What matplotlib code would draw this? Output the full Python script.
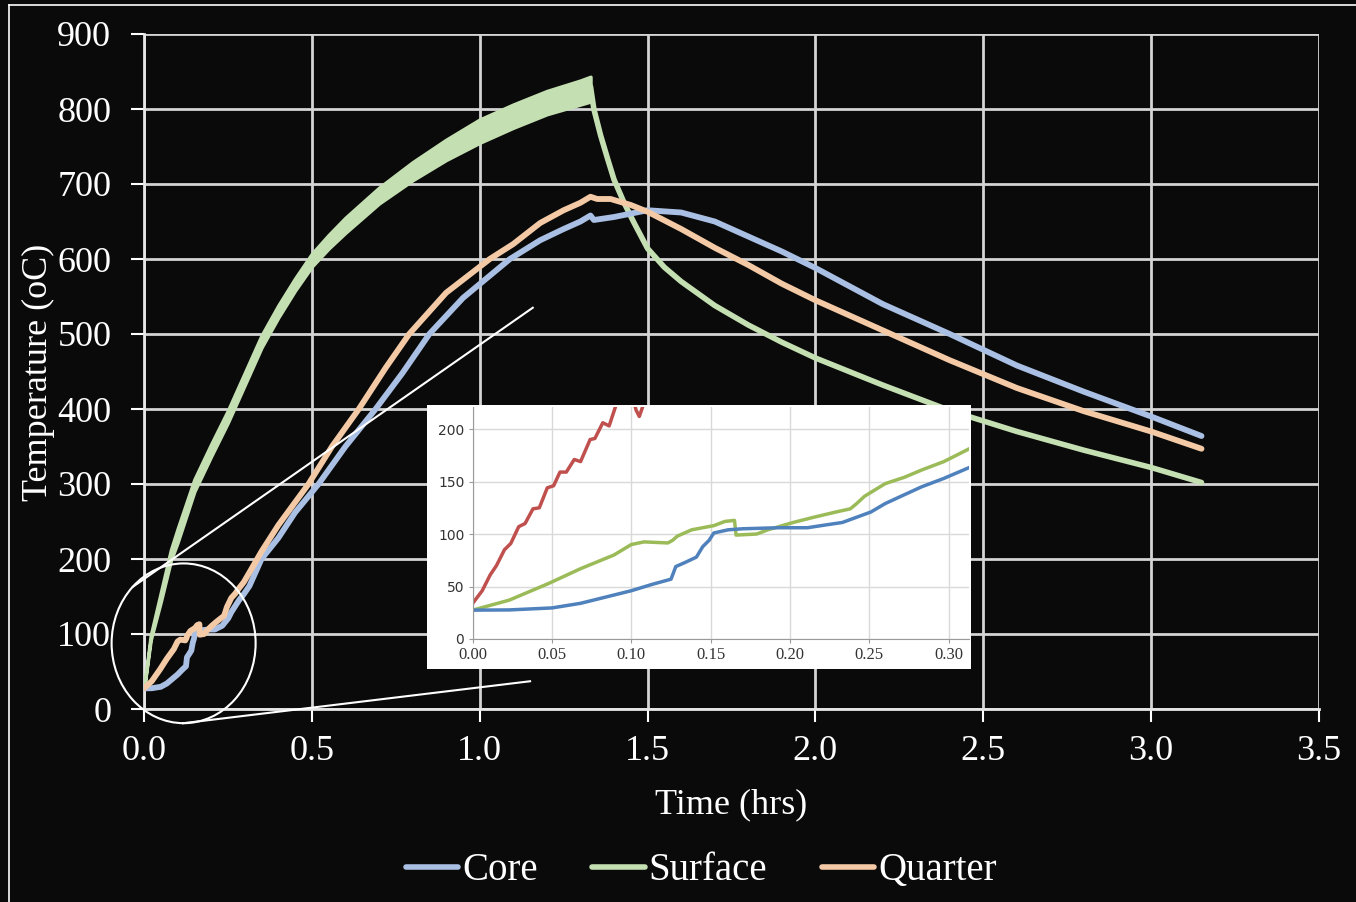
# Heat treatment temperature curves with a zoomed inset of the first 0.3 hrs
import matplotlib
matplotlib.use('Agg')
import matplotlib.pyplot as plt
from matplotlib.patches import Rectangle, Ellipse
from matplotlib.lines import Line2D

plt.rcParams['font.family'] = ['Liberation Serif', 'DejaVu Serif']

W, H = 1356, 902
BG = '#0a0a0a'

# --- inset data (first 0.31 hrs) ---
in_blue_t = [0, 0.023, 0.05, 0.068, 0.084, 0.1, 0.113, 0.125, 0.128, 0.134, 0.141, 0.145, 0.149,
             0.152, 0.161, 0.17, 0.193, 0.211, 0.224, 0.233, 0.242, 0.251, 0.26, 0.27, 0.283, 0.297, 0.314]
in_blue_v = [27.5, 27.7, 29.6, 34, 40, 46, 52, 57, 69, 73, 78, 88, 94,
             101, 104, 105, 106, 106, 109, 111, 116, 121, 129, 136, 145, 153, 164]

in_green_t = [0, 0.023, 0.048, 0.068, 0.089, 0.1, 0.108, 0.123, 0.126, 0.129, 0.138, 0.152, 0.159, 0.165,
              0.166, 0.179, 0.186, 0.202, 0.215, 0.229, 0.238, 0.242, 0.247, 0.26, 0.272, 0.283, 0.297, 0.314]
in_green_v = [27.5, 37, 53, 67, 80, 90, 92.5, 91.5, 94, 98, 104, 108, 112, 113,
              99, 100, 104, 111, 116, 121, 124, 129, 136, 148, 154, 161, 169, 182]

in_red_t = [0.0005, 0.006, 0.011, 0.015, 0.020, 0.024, 0.029, 0.033, 0.038, 0.042, 0.047, 0.051, 0.055,
            0.059, 0.064, 0.068, 0.074, 0.077, 0.082, 0.086, 0.093, 0.099, 0.103, 0.105, 0.108, 0.112]
in_red_v = [35, 46, 61, 70, 85, 91, 107, 110, 124, 125, 144, 146, 159,
            159, 171, 169, 190, 191, 206, 203, 235, 240, 218, 212, 225, 245]

# --- main chart data ---
core_late_t = [0.35, 0.4, 0.45, 0.52, 0.6, 0.69, 0.77, 0.85, 0.95, 1.09, 1.18, 1.25, 1.3, 1.33, 1.34,
               1.4, 1.5, 1.6, 1.7, 1.8, 1.9, 2.0, 2.2, 2.4, 2.6, 2.8, 3.0, 3.15]
core_late_v = [200, 228, 262, 300, 350, 400, 448, 500, 548, 600, 625, 640, 650, 658, 652,
               656, 665, 662, 650, 630, 610, 588, 540, 500, 458, 423, 390, 364]

quarter_late_t = [0.35, 0.4, 0.49, 0.56, 0.64, 0.72, 0.79, 0.9, 1.03, 1.1, 1.18, 1.25, 1.3, 1.33, 1.35,
                  1.39, 1.45, 1.5, 1.6, 1.7, 1.8, 1.9, 2.0, 2.2, 2.4, 2.6, 2.8, 3.0, 3.15]
quarter_late_v = [210, 245, 300, 350, 400, 455, 500, 555, 600, 620, 648, 665, 675, 683, 680,
                  680, 672, 663, 640, 615, 592, 567, 545, 505, 465, 428, 397, 370, 347]

# surface heating: oscillating band (lower / upper envelope)
surf_heat_t = [0, 0.02, 0.05, 0.08, 0.1, 0.15, 0.2, 0.25, 0.3, 0.35, 0.4, 0.45, 0.5, 0.55, 0.6,
               0.7, 0.8, 0.9, 1.0, 1.1, 1.2, 1.3, 1.33]
surf_heat_lo = [27, 92, 143, 198, 222, 290, 337, 382, 432, 482, 522, 558, 590, 614, 635,
                674, 705, 732, 755, 775, 793, 806, 810]
surf_heat_hi = [27, 98, 155, 212, 240, 306, 353, 398, 448, 498, 538, 574, 607, 632, 655,
                695, 729, 759, 786, 806, 824, 838, 843]
surf_cool_t = [1.33, 1.34, 1.36, 1.38, 1.4, 1.43, 1.46, 1.5, 1.55, 1.6, 1.7, 1.8, 1.9, 2.0,
               2.2, 2.4, 2.6, 2.8, 3.0, 3.15]
surf_cool_v = [830, 800, 765, 735, 706, 675, 648, 614, 589, 570, 538, 512, 489, 468,
               432, 398, 370, 345, 322, 302]

core_t = in_blue_t + core_late_t
core_v = in_blue_v + core_late_v
quarter_t = in_green_t + quarter_late_t
quarter_v = in_green_v + quarter_late_v

c_core = '#a9c0e4'
c_surf = '#c4dfb1'
c_quar = '#f4caa6'

fig = plt.figure(figsize=(W / 100, H / 100), dpi=100, facecolor=BG)
ax = fig.add_axes([144 / W, 193 / H, 1175 / W, 675 / H])
ax.set_facecolor(BG)

ax.fill_between(surf_heat_t, surf_heat_lo, surf_heat_hi, color=c_surf, lw=2.5, zorder=3)
ax.plot(surf_cool_t, surf_cool_v, color=c_surf, lw=4, solid_capstyle='round', zorder=3)
ax.plot(core_t, core_v, color=c_core, lw=4.2, solid_capstyle='round', zorder=4)
ax.plot(quarter_t, quarter_v, color=c_quar, lw=4.2, solid_capstyle='round', zorder=5)

ax.set_xlim(0, 3.5)
ax.set_ylim(0, 900)
ax.set_xticks([0, 0.5, 1.0, 1.5, 2.0, 2.5, 3.0, 3.5])
ax.set_xticklabels(['%.1f' % v for v in ax.get_xticks()])
ax.set_yticks(range(0, 901, 100))
ax.grid(True, color='#d4d4d4', lw=2)
ax.set_axisbelow(True)
for s in ['top', 'right']:
    ax.spines[s].set_visible(False)
for s in ['left', 'bottom']:
    ax.spines[s].set_color('#e6e6e6')
    ax.spines[s].set_linewidth(2)
ax.tick_params(colors='white', labelsize=26, length=9.5, width=1.5)
ax.tick_params(axis='y', pad=14)
ax.tick_params(axis='x', pad=9)

fig.text(38 / W, 1 - 372 / H, 'Temperature (oC)', rotation=90, ha='center', va='center',
         color='white', fontsize=26)
fig.text(731 / W, 1 - 805 / H, 'Time (hrs)', ha='center', va='center', color='white', fontsize=26)

# zoom marker: ellipse and connector lines
ax.add_patch(Ellipse((0.118, 87.6), 0.429, 213, fill=False, ec='white', lw=1.5,
                     clip_on=False, zorder=6))
ax.plot([-0.033, 1.158], [163, 535], color='white', lw=1.5, clip_on=False, zorder=6)
ax.plot([0.116, 1.15], [-19, 37], color='white', lw=1.5, clip_on=False, zorder=6)

# inset
fig.add_artist(Rectangle((427 / W, 1 - 669 / H), 544 / W, 264 / H, transform=fig.transFigure,
                         facecolor='white', edgecolor='none', zorder=1))
ins = fig.add_axes([472.7 / W, 1 - 639 / H, 496.6 / W, 232 / H], zorder=2)
ins.set_facecolor('white')
ins.plot(in_red_t, in_red_v, color='#c0504d', lw=2.5)
ins.plot(in_green_t, in_green_v, color='#9bbb59', lw=2.5)
ins.plot(in_blue_t, in_blue_v, color='#4f81bd', lw=2.5)
ins.set_xlim(0, 0.313)
ins.set_ylim(0, 221)
ins.set_xticks([0, 0.05, 0.10, 0.15, 0.20, 0.25, 0.30])
ins.set_xticklabels(['%.2f' % v for v in [0, 0.05, 0.10, 0.15, 0.20, 0.25, 0.30]],
                    fontsize=12, color='#333333')
ins.set_yticks([0, 50, 100, 150, 200])
ins.set_yticklabels(['0', '50', '100', '150', '200'], fontsize=10, color='#333333',
                    family='DejaVu Sans')
ins.grid(True, color='#d9d9d9', lw=1)
ins.set_axisbelow(True)
for s in ['top', 'right']:
    ins.spines[s].set_visible(False)
for s in ['left', 'bottom']:
    ins.spines[s].set_color('#9a9a9a')
ins.tick_params(length=3, color='#9a9a9a', pad=3)

# legend
handles = [Line2D([], [], color=c, lw=4, solid_capstyle='round') for c in [c_core, c_surf, c_quar]]
fig.legend(handles, ['Core', 'Surface', 'Quarter'], ncol=3, loc='center',
           bbox_to_anchor=(701 / W, 1 - 871 / H), frameon=False, fontsize=28,
           labelcolor='white', handlelength=1.35, handletextpad=0.1, columnspacing=1.4)

# outer frame edge
fig.add_artist(Line2D([9 / W, 9 / W], [0, 1 - 5 / H], transform=fig.transFigure, color='white', lw=1.2))
fig.add_artist(Line2D([9 / W, 1], [1 - 5 / H, 1 - 5 / H], transform=fig.transFigure, color='white', lw=1.2))

fig.savefig('out.png', dpi=100, facecolor=BG)
